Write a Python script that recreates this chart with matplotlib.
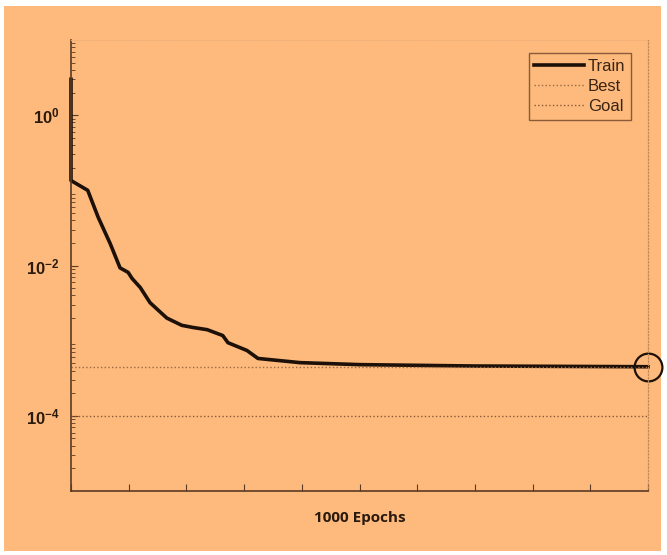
import matplotlib
matplotlib.use('Agg')
import matplotlib.pyplot as plt
from matplotlib.patches import Rectangle
from matplotlib.ticker import LogLocator, FixedLocator, FixedFormatter, NullFormatter

# training record
epochs = [0, 0, 29, 47, 68, 85, 99, 106, 120, 137, 166, 192, 211, 236, 263, 272,
          305, 324, 397, 500, 700, 1000]
train_perf = [3.0, 0.135, 0.1, 0.044, 0.0195, 0.0093, 0.0081, 0.0067, 0.0051, 0.0032,
              0.002, 0.0016, 0.0015, 0.0014, 0.00117, 0.00094, 0.00074, 0.00058,
              0.00051, 0.00048, 0.00046, 0.00045]
best_perf = 0.00045
goal = 1e-4
best_epoch = 1000

ytick_vals = [1e0, 1e-2, 1e-4]
ytick_labels = [r'$\mathbf{10^{0}}$', r'$\mathbf{10^{-2}}$', r'$\mathbf{10^{-4}}$']

plt.rcParams['mathtext.fontset'] = 'custom'
plt.rcParams['mathtext.rm'] = 'Liberation Sans'
plt.rcParams['mathtext.bf'] = 'Liberation Sans:bold'
plt.rcParams['font.family'] = 'Liberation Sans'

orange = '#fdba7c'
dark = '#5a3a22'

fig = plt.figure(figsize=(6.67, 5.55), dpi=100, facecolor='white')
fig.patches.append(Rectangle((4 / 667, 4 / 555), 657 / 667, 545 / 555,
                             transform=fig.transFigure, facecolor=orange,
                             edgecolor='none', zorder=-10))
ax = fig.add_axes([71 / 667, 64 / 555, 577 / 667, 451 / 555])
ax.set_facecolor(orange)

ax.plot(epochs, train_perf, color='#1c1008', lw=2.6, label='Train',
        solid_joinstyle='round', clip_on=False)
ax.axhline(best_perf, color='#9a6a45', lw=1.0, ls=':', label='Best')
ax.axhline(goal, color='#8a5a3a', lw=1.0, ls=':', label='Goal')
ax.plot([best_epoch], [best_perf], 'o', mfc='none', mec='#1c1008', ms=20, mew=1.6,
        clip_on=False)

ax.set_yscale('log')
ax.set_xlim(0, 1000)
ax.set_ylim(1e-5, 1e1)

ax.yaxis.set_major_locator(FixedLocator(ytick_vals))
ax.yaxis.set_major_formatter(FixedFormatter(ytick_labels))
ax.yaxis.set_minor_locator(LogLocator(base=10, subs=range(2, 10), numticks=20))
ax.yaxis.set_minor_formatter(NullFormatter())
ax.set_xticks(range(0, 1001, 100))
ax.set_xticklabels([])
ax.tick_params(axis='both', which='both', direction='in', color=dark)
ax.tick_params(axis='y', which='major', length=5, labelsize=12, labelcolor='#2a1a0e', pad=8)
ax.tick_params(axis='y', which='minor', length=3)
ax.tick_params(axis='x', which='major', length=5)

for side in ['left', 'bottom']:
    ax.spines[side].set_color(dark)
    ax.spines[side].set_linewidth(1.2)
ax.spines['right'].set_color('#c08a5a')
ax.spines['right'].set_linestyle(':')
ax.spines['right'].set_linewidth(0.9)
ax.spines['top'].set_color('#f0b07a')
ax.spines['top'].set_linestyle(':')
ax.spines['top'].set_linewidth(0.8)

ax.set_xlabel('1000 Epochs', fontsize=11, fontweight='bold', family='Open Sans',
              color='#2a1a0e', labelpad=11)

leg = ax.legend(loc='upper right', bbox_to_anchor=(0.985, 0.99), fontsize=12,
                frameon=True, fancybox=False, handlelength=3.0, handletextpad=0.2,
                borderpad=0.35, labelspacing=0.3, markerfirst=True)
leg.get_frame().set_facecolor(orange)
leg.get_frame().set_edgecolor('#8a5a3a')
leg.get_frame().set_linewidth(1.0)
leg.get_frame().set_alpha(1)
for t in leg.get_texts():
    t.set_color('#3a2414')

fig.savefig('out.png', dpi=100, facecolor='white')
